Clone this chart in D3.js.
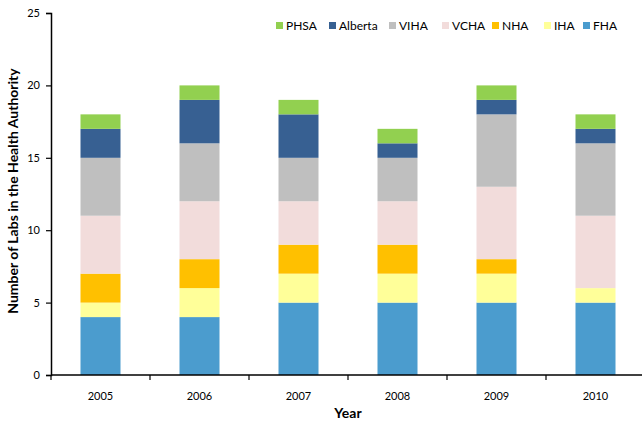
<!DOCTYPE html>
<html>
<head>
<meta charset="utf-8">
<script src="https://cdn.jsdelivr.net/npm/d3@7"></script>
<style>
  html, body { margin: 0; padding: 0; background: #fff; }
  svg { display: block; }
  text { font-family: Lato, "Open Sans", sans-serif; fill: #000; }
</style>
</head>
<body>
<svg id="chart" width="642" height="423"></svg>
<script>
// Labs per health authority, by year
const years = ["2005", "2006", "2007", "2008", "2009", "2010"];
const authorities = ["FHA", "IHA", "NHA", "VCHA", "VIHA", "Alberta", "PHSA"];
const FHA     = [4, 4, 5, 5, 5, 5];
const IHA     = [1, 2, 2, 2, 2, 1];
const NHA     = [2, 2, 2, 2, 1, 0];
const VCHA    = [4, 4, 3, 3, 5, 5];
const VIHA    = [4, 4, 3, 3, 5, 5];
const Alberta = [2, 3, 3, 1, 1, 1];
const PHSA    = [1, 1, 1, 1, 1, 1];
const yTicks  = [0, 5, 10, 15, 20, 25];
const legendOrder = ["PHSA", "Alberta", "VIHA", "VCHA", "NHA", "IHA", "FHA"];

const seriesValues = { FHA, IHA, NHA, VCHA, VIHA, Alberta, PHSA };
const colors = {
  FHA: "#4b9cce", IHA: "#ffff99", NHA: "#ffc000", VCHA: "#f2dcdb",
  VIHA: "#bfbfbf", Alberta: "#376092", PHSA: "#92d050"
};

const rows = years.map((y, i) => {
  const r = { year: y };
  authorities.forEach(a => r[a] = seriesValues[a][i]);
  return r;
});

const svg = d3.select("#chart");
const x0 = 51, x1 = 645, yBottom = 375, yTop = 13;

const x = d3.scaleBand().domain(years).range([x0, x1]).paddingInner(0).paddingOuter(0);
const y = d3.scaleLinear().domain([0, 25]).range([yBottom, yTop]);

const stacked = d3.stack().keys(authorities)(rows);
const barW = 40;

svg.append("g").selectAll("g")
  .data(stacked).join("g")
  .attr("fill", d => colors[d.key])
  .selectAll("rect")
  .data(d => d.filter(s => s[1] - s[0] > 0))
  .join("rect")
  .attr("x", d => x(d.data.year) + x.bandwidth() / 2 - barW / 2)
  .attr("width", barW)
  .attr("y", d => y(d[1]))
  .attr("height", d => y(d[0]) - y(d[1]));

// Y axis
const yAxis = svg.append("g")
  .attr("transform", `translate(${x0},0)`)
  .call(d3.axisLeft(y).tickValues(yTicks).tickSize(5).tickPadding(6));
yAxis.select(".domain").attr("stroke", "#000").attr("stroke-width", 1.5);
yAxis.selectAll(".tick line").attr("stroke", "#000").attr("stroke-width", 1.2);
yAxis.selectAll(".tick text").attr("font-size", 11).attr("font-family", "Lato, sans-serif");

// X axis with ticks at band edges
const xAxis = svg.append("g")
  .attr("transform", `translate(0,${yBottom})`);
xAxis.append("line")
  .attr("x1", x0).attr("x2", 642)
  .attr("stroke", "#000").attr("stroke-width", 1.5);
xAxis.selectAll("line.edge")
  .data(years).join("line")
  .attr("class", "edge")
  .attr("x1", d => x(d)).attr("x2", d => x(d))
  .attr("y1", 0).attr("y2", 5)
  .attr("stroke", "#000").attr("stroke-width", 1.2);
xAxis.selectAll("text")
  .data(years).join("text")
  .attr("x", d => x(d) + x.bandwidth() / 2)
  .attr("y", 25)
  .attr("text-anchor", "middle")
  .attr("font-size", 11)
  .text(d => d);

// Axis titles
svg.append("text")
  .attr("x", 348).attr("y", 418)
  .attr("text-anchor", "middle")
  .attr("font-size", 14).attr("font-weight", "bold")
  .text("Year");

svg.append("text")
  .attr("transform", "translate(18,191) rotate(-90)")
  .attr("text-anchor", "middle")
  .attr("font-size", 14).attr("font-weight", "bold")
  .text("Number of Labs in the Health Authority");

// Legend
const legendX = [276, 329, 389, 442, 492, 544, 583];
const legend = svg.append("g");
legendOrder.forEach((k, i) => {
  const g = legend.append("g").attr("transform", `translate(${legendX[i]},22)`);
  g.append("rect").attr("width", 7).attr("height", 7).attr("fill", colors[k]);
  g.append("text").attr("x", 10).attr("y", 7.5).attr("font-size", 12).text(k);
});
</script>
</body>
</html>
